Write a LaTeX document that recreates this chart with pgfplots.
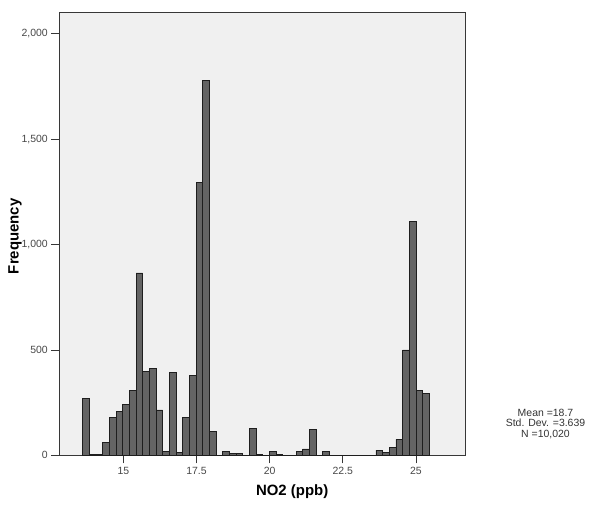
\documentclass[border=0pt]{standalone}
\usepackage{pgfplots}
\pgfplotsset{compat=1.18}
\usepackage{fontspec}
\setmainfont{Liberation Sans}
\definecolor{plotbg}{RGB}{240,240,240}
\definecolor{barfill}{RGB}{100,100,100}
\definecolor{baredge}{RGB}{30,30,30}
\definecolor{framecol}{RGB}{55,55,55}
\begin{document}
\begin{tikzpicture}[x=1bp,y=1bp]
\useasboundingbox (0,0) rectangle (600,-509);
\begin{axis}[
    at={(59.3bp,-455.3bp)}, anchor=south west,
    scale only axis, width=406.4bp, height=442.6bp,
    xmin=12.81, xmax=26.70, ymin=0, ymax=2100,
    axis background/.style={fill=plotbg},
    axis line style={framecol, line width=0.8bp},
    tick align=outside, tick pos=left,
    major tick length=8bp,
    tick style={framecol, line width=0.8bp},
    xtick={15,17.5,20,22.5,25},
    ytick={0,500,1000,1500,2000},
    scaled y ticks=false,
    /pgf/number format/assume math mode=true,
    /pgf/number format/1000 sep={,},
    tick label style={font=\fontsize{10.5}{12}\selectfont, text=black!72},
    xlabel={NO2 (ppb)},
    ylabel={Frequency},
    xlabel style={at={(axis description cs:0.573,-0.083)}, anchor=center, font=\bfseries\fontsize{15}{18}\selectfont},
    ylabel style={at={(axis description cs:-0.109,0.495)}, anchor=center, font=\bfseries\fontsize{15}{18}\selectfont},
]
\addplot[ybar interval, fill=barfill, draw=baredge, line width=0.7bp] coordinates {
(13.610,268) (13.838,5) (14.066,5) (14.293,60) (14.521,178) (14.749,209)
(14.977,242) (15.205,307) (15.432,865) (15.660,400) (15.888,413) (16.116,215)
(16.344,20) (16.571,395) (16.799,12) (17.027,180) (17.255,378) (17.483,1295)
(17.710,1780) (17.938,112) (18.166,0) (18.394,17) (18.622,9) (18.849,8)
(19.077,0) (19.305,128) (19.533,5) (19.761,0) (19.988,19) (20.216,3)
(20.444,0) (20.672,0) (20.900,17) (21.127,30) (21.355,122) (21.583,0)
(21.811,17) (22.039,0) (22.266,0) (22.494,0) (22.722,0) (22.950,0)
(23.178,0) (23.405,0) (23.633,25) (23.861,12) (24.089,36) (24.317,76)
(24.544,500) (24.772,1110) (25.000,307) (25.228,293) (25.456,293)
};
\end{axis}
\node[align=center, font=\fontsize{10.5}{10.5}\selectfont, text=black!80] at (545.5,-424) {Mean =18.7\\Std. Dev. =3.639\\N =10,020};
\end{tikzpicture}
\end{document}
